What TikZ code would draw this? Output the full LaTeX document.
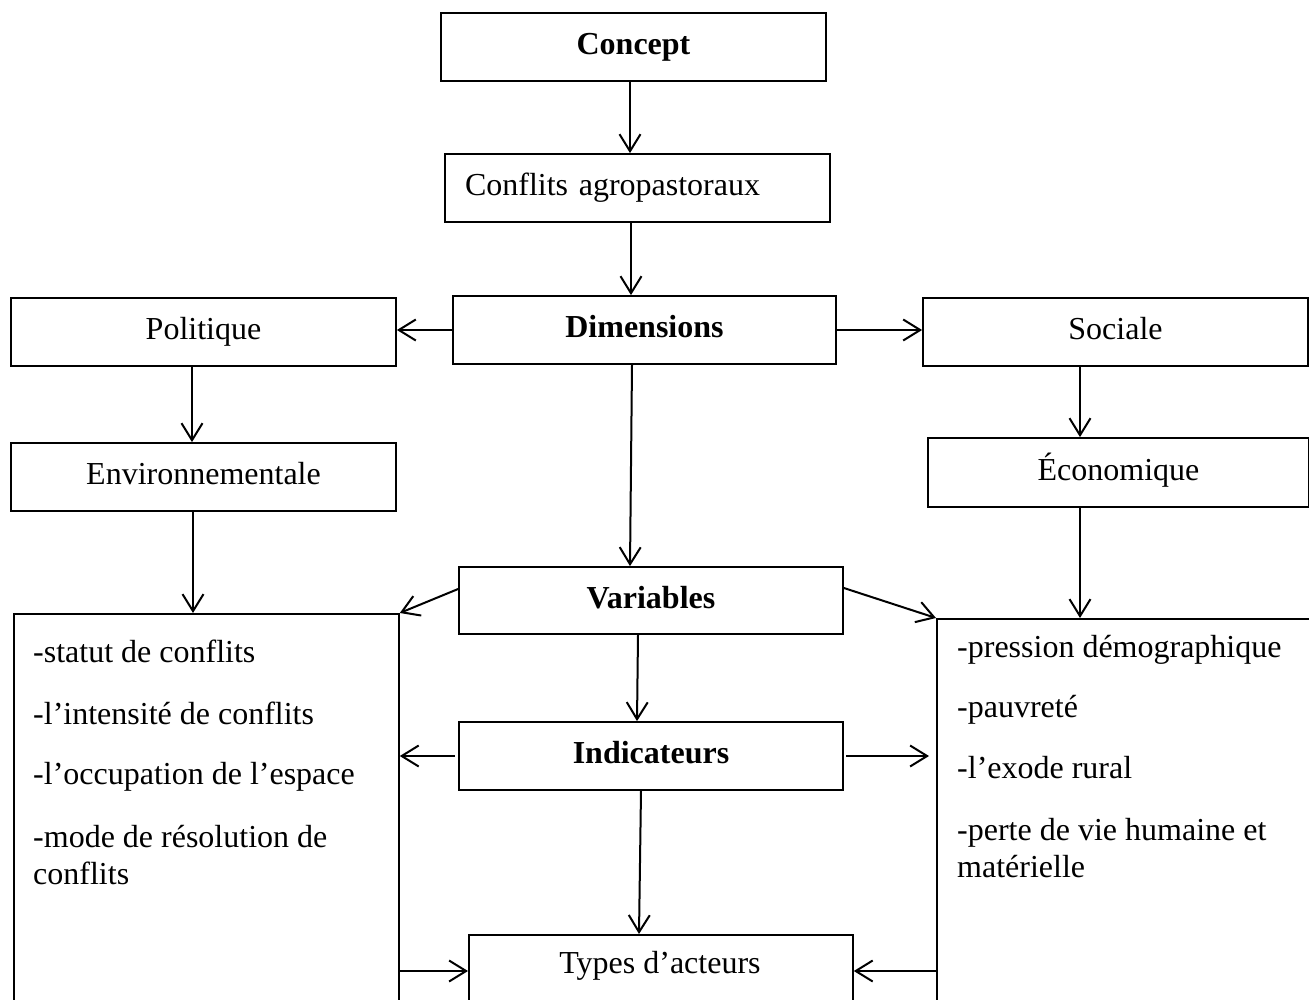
\documentclass[tikz,border=0pt]{standalone}
\usepackage{fontspec}
\setmainfont{Liberation Serif}
\usetikzlibrary{arrows.meta}
\begin{document}
\begin{tikzpicture}[x=1pt,y=-1pt,
  box/.style={draw,line width=1.8pt,inner sep=0pt,text height=22pt,text depth=7pt,
    minimum width=385pt,minimum height=68pt,font=\fontsize{32}{38}\selectfont},
  bbox/.style={box,font=\fontsize{32}{38}\selectfont\bfseries},
  tall/.style={draw,line width=1.8pt,inner sep=0pt,anchor=north west},
  arr/.style={line width=2pt,-{Straight Barb[length=17pt,width=21pt,line width=2pt]}},
  itm/.style={anchor=base west,inner sep=0pt,font=\fontsize{32}{37}\selectfont}]
\useasboundingbox (0,0) rectangle (1309,999);
\clip (0,0) rectangle (1309,999);

% boxes
\node[bbox] (concept) at (633.5,47) {Concept};
\node[box,text width=345pt,align=left] (conflits) at (637.5,188) {Conflits agropastoraux};
\node[bbox,minimum width=383pt] (dims) at (644.5,330) {Dimensions};
\node[box] (pol) at (203.5,332) {Politique};
\node[box] (soc) at (1115.5,332) {Sociale};
\node[box] (env) at (203.5,477) {Environnementale};
\node[box,minimum width=381pt,minimum height=69pt] (eco) at (1118.5,472.5) {Économique};
\node[bbox,minimum width=384pt,minimum height=67pt] (vars) at (651,600.5) {Variables};
\node[bbox,minimum width=384pt] (ind) at (651,756) {Indicateurs};

\node[tall,minimum width=385pt,minimum height=420pt] (left) at (13,613) {};
\node[tall,minimum width=373pt,minimum height=420pt] (right) at (936,618) {};
\node[tall,minimum width=384pt,minimum height=120pt] (types) at (468,934) {};
\node[anchor=base,inner sep=0pt,font=\fontsize{32}{38}\selectfont] (typestxt) at (660,973) {Types d’acteurs};

% left list
\node[itm] (l1) at (33,662) {-statut de conflits};
\node[itm] (l2) at (33,724) {-l’intensité de conflits};
\node[itm] (l3) at (33,784) {-l’occupation de l’espace};
\node[itm] (l4) at (33,847) {-mode de résolution de};
\node[itm] (l4b) at (33,884) {conflits};
% right list
\node[itm] (r1) at (957,657) {-pression démographique};
\node[itm] (r2) at (957,717) {-pauvreté};
\node[itm] (r3) at (957,778) {-l’exode rural};
\node[itm] (r4) at (957,840) {-perte de vie humaine et};
\node[itm] (r4b) at (957,877) {matérielle};

% connectors
\draw[arr] (630,0 |- concept.south) -- (630,0 |- conflits.north);
\draw[arr] (631,0 |- conflits.south) -- (631,0 |- dims.north);
\draw[arr] (dims.west |- 0,330) -- (pol.east |- 0,330);
\draw[arr] (dims.east |- 0,330) -- (soc.west |- 0,330);
\draw[arr] (192,0 |- pol.south) -- (192,0 |- env.north);
\draw[arr] (1080,0 |- soc.south) -- (1080,0 |- eco.north);
\draw[arr] (632,0 |- dims.south) -- (630,0 |- vars.north);
\draw[arr] (193,0 |- env.south) -- (193,0 |- left.north);
\draw[arr] (1080,0 |- eco.south) -- (1080,0 |- right.north);
\draw[arr] (vars.west |- 0,589) -- (left.north east);
\draw[arr] (vars.east |- 0,588) -- (right.north west);
\draw[arr] (638,0 |- vars.south) -- (637,0 |- ind.north);
\draw[arr] (455,0 |- ind.west) -- (left.east |- ind.west);
\draw[arr] (846,0 |- ind.east) -- (929,0 |- ind.east);
\draw[arr] (641,0 |- ind.south) -- (639,0 |- types.north);
\draw[arr] (left.east |- 0,971) -- (types.west |- 0,971);
\draw[arr] (right.west |- 0,971) -- (types.east |- 0,971);
\end{tikzpicture}
\end{document}
